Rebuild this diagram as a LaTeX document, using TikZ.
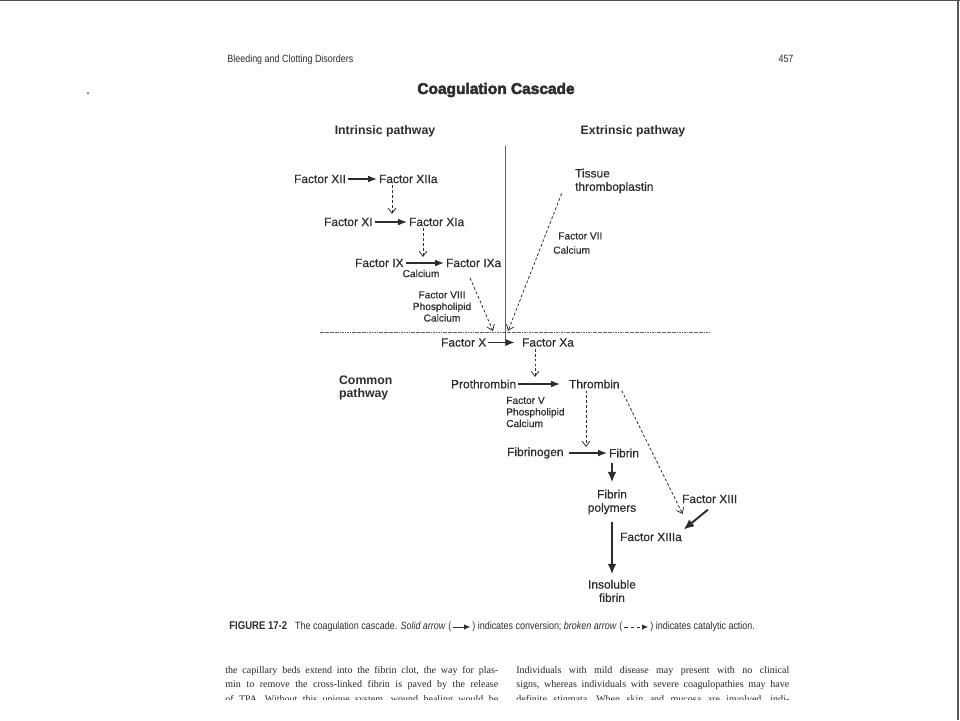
\documentclass[tikz,border=0pt]{standalone}
\usepackage{fontspec}
\setmainfont{Liberation Sans}[UprightFeatures={FakeBold=0.5}]
\newfontfamily\condfont[FakeStretch=0.85]{Liberation Sans}
\newfontfamily\serifbody{Liberation Serif}
\newfontfamily\titlefont[BoldFeatures={FakeBold=3.2}]{Liberation Sans}
\usetikzlibrary{arrows.meta}

\definecolor{ink}{RGB}{45,45,45}
\definecolor{rulegray}{RGB}{95,95,95}

\tikzset{
  fac/.style={font=\fontsize{6.8}{8}\selectfont, text=ink, inner sep=1pt},
  sub/.style={font=\fontsize{5.8}{6.6}\selectfont, text=ink, inner sep=0.5pt},
  hd/.style={font=\bfseries\fontsize{7}{8}\selectfont, text=ink, inner sep=1pt},
  runhd/.style={font=\condfont\fontsize{6}{7}\selectfont, text=ink, inner sep=0pt},
  body/.style={font=\serifbody\fontsize{5.7}{7}\selectfont\frenchspacing, text=black!85, inner sep=0pt},
  conv/.style={draw=ink, line width=0.7pt, -{Latex[length=5pt,width=3.8pt]}},
  bigconv/.style={draw=ink, line width=1.1pt, -{Latex[length=6pt,width=5pt]}},
  cat/.style={draw=ink, line width=0.45pt, dash pattern=on 1.6pt off 1.2pt,
              -{Straight Barb[length=3pt,width=4.5pt]}},
}

\begin{document}
\begin{tikzpicture}[x=0.02cm,y=-0.02cm]
    \useasboundingbox (0,0) rectangle (960,720);
    % scan edges
    \draw[line width=0.8pt, black!70] (0,0.5) -- (960,0.5);
    \draw[line width=0.6pt, black!65] (958,0) -- (958,720);
    \fill[black!70] (88,93) circle (1);
    %
    \node[runhd, anchor=west] (runhead) at (227,60) {Bleeding and Clotting Disorders};
    \node[runhd] (pageno) at (786,59) {457};
    \node[font=\titlefont\bfseries\fontsize{8.8}{10}\selectfont, text=ink] (title) at (496,90) {Coagulation Cascade};
    \node[hd] (intr) at (385,131) {Intrinsic pathway};
    \node[hd] (extr) at (633,131) {Extrinsic pathway};
    \node[hd, anchor=west, align=left] (common) at (337,387.5) {Common\\[-0.6pt]pathway};
    %
    % dividing lines
    \coordinate (vtop) at (505,146);
    \coordinate (vbot) at (505,346);
    \coordinate (hl) at (320,332);
    \coordinate (hr) at (710,332);
    \draw[rulegray, line width=0.45pt] (vtop) -- (vbot);
    \draw[rulegray, line width=0.45pt, dash pattern=on 1pt off 0.4pt] (hl) -- (hr);
    %
    % intrinsic pathway
    \node[fac, anchor=west] (F12) at (292,179) {Factor XII};
    \node[fac, anchor=west] (F12a) at (377,179) {Factor XIIa};
    \node[fac, anchor=west] (F11) at (322,222) {Factor XI};
    \node[fac, anchor=west] (F11a) at (407,222) {Factor XIa};
    \node[fac, anchor=west] (F9) at (353,263) {Factor IX};
    \node[fac, anchor=west] (F9a) at (444,263) {Factor IXa};
    \node[sub] (ca9) at (421,273.5) {Calcium};
    \node[sub, align=center] (F8) at (442,306.5) {Factor VIII\\Phospholipid\\Calcium};
    \draw[conv] (F12) -- (F12a);
    \draw[conv] (F11) -- (F11a);
    \draw[conv] (F9) -- (F9a);
    \coordinate (hit11) at (392,214);
    \coordinate (hit9) at (423,257);
    \draw[cat] (F12a.south -| hit11) -- (hit11);
    \draw[cat] (F11a.south -| hit9) -- (hit9);
    %
    % extrinsic pathway
    \node[fac, anchor=west, align=left] (TT) at (573,181) {Tissue\\[-0.4pt]thromboplastin};
    \node[sub, anchor=west] (F7) at (557,236) {Factor VII};
    \node[sub, anchor=west] (ca7) at (552,250) {Calcium};
    %
    % common pathway
    \node[fac, anchor=west] (F10) at (439,342.5) {Factor X};
    \node[fac, anchor=west] (F10a) at (520,342.5) {Factor Xa};
    \coordinate (hitL) at (493,331);
    \coordinate (hitR) at (508,331);
    \draw[cat] ([xshift=-2pt,yshift=-5pt]F9a.south) -- (hitL);
    \draw[cat] ([xshift=-6.5pt,yshift=1pt]TT.south west) -- (hitR);
    \draw[conv, shorten >=3pt] (F10) -- (F10a);
    %
    \node[fac, anchor=west] (proT) at (449,384) {Prothrombin};
    \node[fac, anchor=west] (thr) at (567,384) {Thrombin};
    \node[sub, anchor=west, align=left] (F5) at (505,412) {Factor V\\Phospholipid\\Calcium};
    \coordinate (hitP) at (535,377);
    \draw[cat] (F10a.south -| hitP) -- (hitP);
    \draw[conv, shorten >=4pt] (proT) -- (thr);
    %
    \node[fac, anchor=west] (fbg) at (505,453) {Fibrinogen};
    \node[fac, anchor=west] (fib) at (607,453) {Fibrin};
    \node[fac, align=center] (poly) at (612,502) {Fibrin\\[-0.4pt]polymers};
    \node[fac, align=center] (insol) at (612,591) {Insoluble\\[-0.4pt]fibrin};
    \node[fac, anchor=west] (F13) at (680,499) {Factor XIII};
    \node[fac, anchor=west] (F13a) at (618,537) {Factor XIIIa};
    \coordinate (hitF) at (586,447);
    \draw[cat] (thr.south -| hitF) -- (hitF);
    \draw[conv, shorten <=2pt] (fbg) -- (fib);
    \draw[bigconv, shorten <=2pt, shorten >=3pt] (fib.south -| poly) -- (poly.north);
    \draw[bigconv, shorten <=3pt, shorten >=2pt] (poly) -- (insol);
    \draw[cat] (thr.south east) -- ([xshift=1.5pt,yshift=-5pt]F13.south west);
    \draw[bigconv, shorten >=1pt] ([xshift=-1pt,yshift=-2.5pt]F13.south) -- ([xshift=-1pt]F13a.north east);
    %
    % caption
    \node[runhd, anchor=west] (capA) at (229,627) {\textbf{\fontsize{6.4}{7}\selectfont FIGURE 17-2}\hspace{4.5pt}The coagulation cascade. \textit{Solid arrow} (};
    \node[runhd, anchor=west] (capB) at (472,627) {) indicates conversion; \textit{broken arrow} (};
    \node[runhd, anchor=west] (capC) at (650,627) {) indicates catalytic action.};
    \draw[draw=ink, line width=0.5pt, shorten <=1pt, shorten >=1pt, -{Latex[length=3.5pt,width=3pt]}] (capA) -- (capB);
    \draw[draw=ink, line width=0.5pt, dash pattern=on 2pt off 1.5pt, shorten <=1pt, shorten >=1pt, -{Latex[length=3.5pt,width=3pt]}] (capB) -- (capC);
    %
    % running text
    \node[body, anchor=west] (colL1) at (225,671) {\makebox[5.46cm][s]{the capillary beds extend into the fibrin clot, the way for plas-}};
    \node[body, anchor=west] (colL2) at (225,685.5) {\makebox[5.46cm][s]{min to remove the cross-linked fibrin is paved by the release}};
    \node[body, anchor=west] (colR1) at (516,671) {\makebox[5.46cm][s]{Individuals with mild disease may present with no clinical}};
    \node[body, anchor=west] (colR2) at (516,685.5) {\makebox[5.46cm][s]{signs, whereas individuals with severe coagulopathies may have}};
    \begin{scope}
        \clip (200,692) rectangle (900,699);
        \node[body, anchor=west] (colL3) at (225,700) {\makebox[5.46cm][s]{of TPA. Without this unique system, wound healing would be}};
        \node[body, anchor=west] (colR3) at (516,700) {\makebox[5.46cm][s]{definite stigmata. When skin and mucosa are involved, indi-}};
    \end{scope}
\end{tikzpicture}
\end{document}
